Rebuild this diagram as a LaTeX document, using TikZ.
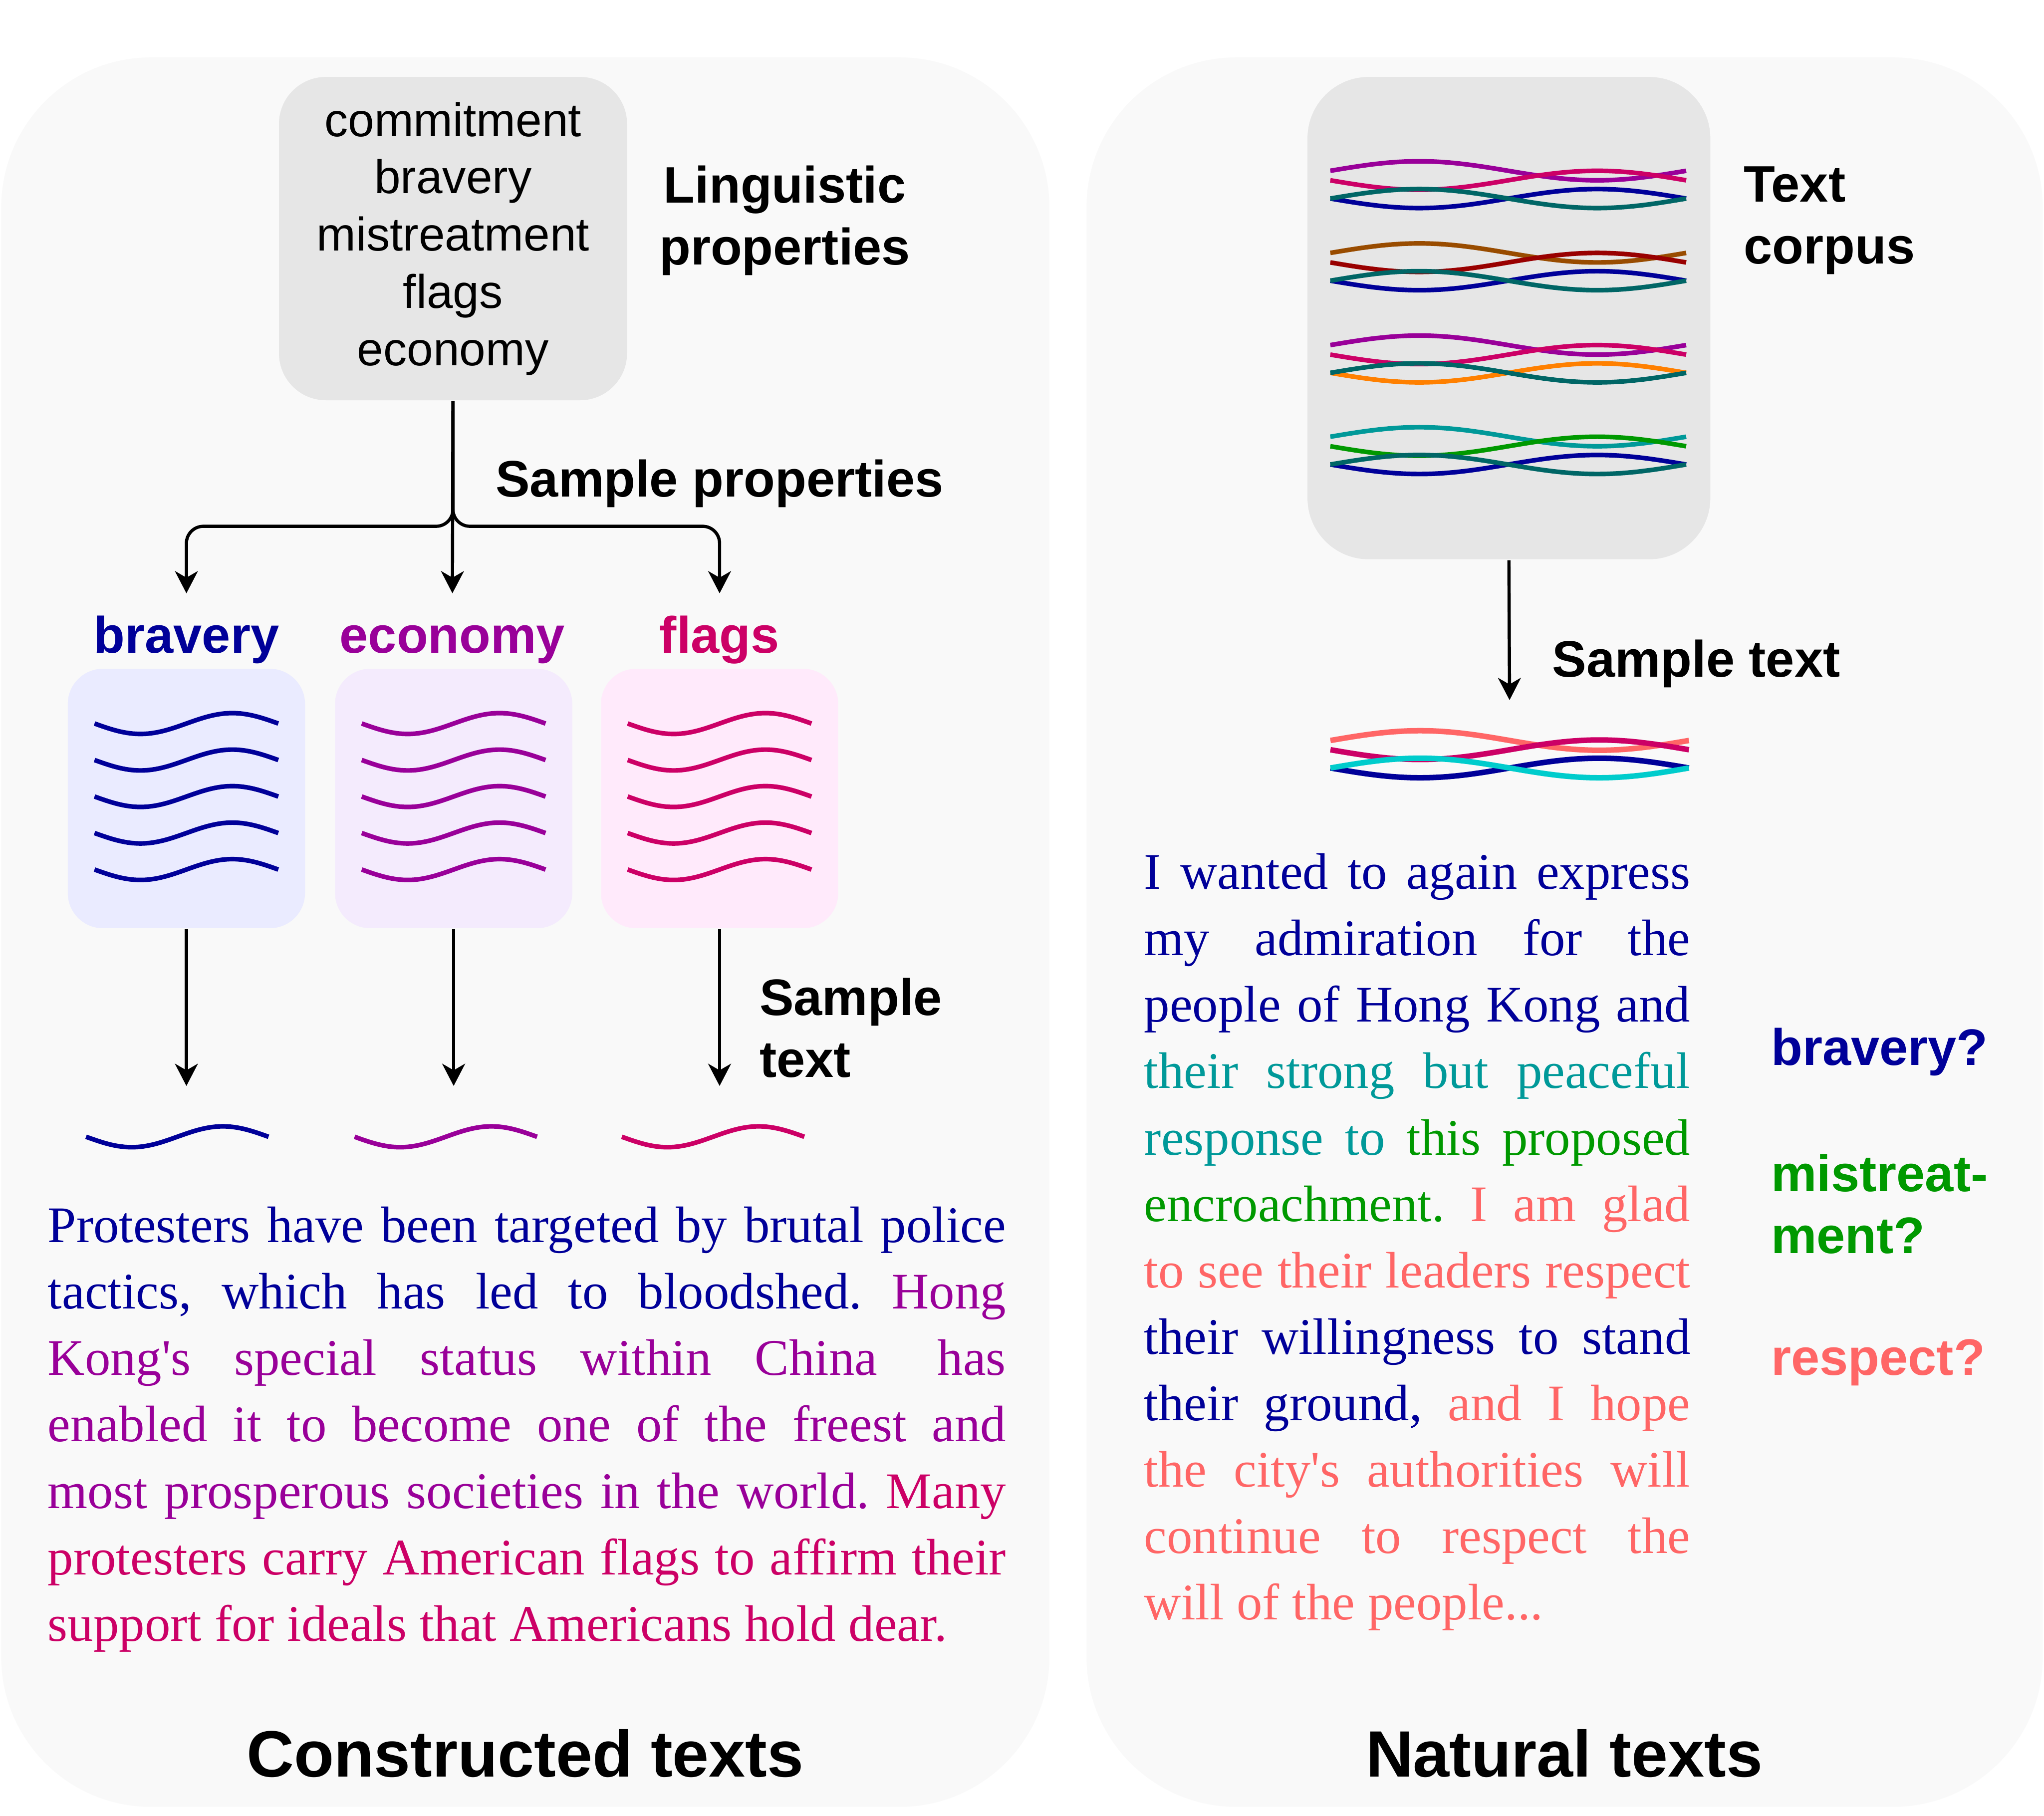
\documentclass[tikz,border=0pt]{standalone}
\usepackage{fontspec}
\setmainfont{Liberation Serif}
\setsansfont{Liberation Sans}
\usetikzlibrary{arrows.meta, positioning}

\definecolor{panelgray}{HTML}{F9F9F9}
\definecolor{boxgray}{HTML}{E6E6E6}
\definecolor{fbrav}{HTML}{EAEBFF}
\definecolor{fecon}{HTML}{F4EBFD}
\definecolor{fflag}{HTML}{FFEAFB}
\definecolor{cnavy}{HTML}{000099}
\definecolor{cecon}{HTML}{990099}
\definecolor{cflag}{HTML}{CC0066}
\definecolor{cdteal}{HTML}{006666}
\definecolor{cbrown}{HTML}{994C00}
\definecolor{cdred}{HTML}{990000}
\definecolor{corange}{HTML}{FF8000}
\definecolor{cteal}{HTML}{009999}
\definecolor{cgreen}{HTML}{009900}
\definecolor{csalmon}{HTML}{FF6666}
\definecolor{cturq}{HTML}{00CCCC}

% one sine period: style, start, width, amplitude (positive = dips first)
\newcommand{\wave}[4]{%
  \draw[#1] (#2) sin ++({#3/4},{-(#4)}) cos ++({#3/4},{#4})
                 sin ++({#3/4},{#4}) cos ++({#3/4},{-(#4)});}

\begin{document}
\begin{tikzpicture}[
  >={Stealth[length=1.7mm, width=1.75mm, inset=0.5mm]},
  panel/.style={fill=panelgray, rounded corners=1.15cm},
  propbox/.style={
    fill=boxgray, rounded corners=0.36cm,
    minimum width=2.67cm, minimum height=2.48cm, align=center,
    font=\sffamily\fontsize{10.3}{12.5}\selectfont
  },
  corpusbox/.style={
    fill=boxgray, rounded corners=0.47cm,
    minimum width=3.09cm, minimum height=3.70cm
  },
  tagbox/.style={
    rounded corners=0.27cm,
    minimum width=1.82cm, minimum height=1.99cm
  },
  lbl/.style={inner sep=0pt, font=\sffamily\bfseries\fontsize{11.2}{13.5}\selectfont},
  tag/.style={lbl, text height=8pt, text depth=2.35pt},
  heading/.style={inner sep=0pt, font=\sffamily\bfseries\fontsize{14.3}{17}\selectfont},
  para/.style={
    inner sep=0pt, anchor=base west, align=justify,
    font=\fontsize{11.2}{14.5}\selectfont\frenchspacing
  },
  arr/.style={->, line width=0.7pt},
  strand/.style={line width=1pt},
]

  \fill[white] (0,0) rectangle (15.68,-13.93);
  \useasboundingbox (0,0) rectangle (15.68,-13.93);

  % -------------------------------------------------------
  %  Panels
  % -------------------------------------------------------
  \fill[panel] (0.01,-0.44) rectangle (8.05,-13.86);
  \fill[panel] (8.335,-0.44) rectangle (15.67,-13.86);

  % -------------------------------------------------------
  %  Constructed texts: properties
  % -------------------------------------------------------
  \node[propbox] (props) at (3.475,-1.83)
    {commitment\\bravery\\mistreatment\\flags\\economy};
  \node[lbl, align=center] (lingprop) at (6.02,-1.69) {Linguistic\\properties};
  \node[lbl] (sampprop) at (5.52,-3.71) {Sample properties};

  \node[tag, text=cnavy] (tbrav) at (1.43,-4.91) {bravery};
  \node[tag, text=cecon] (tecon) at (3.47,-4.91) {economy};
  \node[tag, text=cflag] (tflag) at (5.52,-4.91) {flags};

  \draw[arr, rounded corners=0.13cm, shorten >=0.17cm]
    (props.south) -- ++(0,-0.96) -| (tbrav.north);
  \draw[arr, rounded corners=0.13cm, shorten >=0.17cm]
    (props.south) -- ++(0,-0.96) -| (tflag.north);
  \draw[arr, shorten >=0.17cm] (props.south) -- (tecon.north);

  % -------------------------------------------------------
  %  Property boxes with their texts
  % -------------------------------------------------------
  \node[tagbox, fill=fbrav] (bbox) at (1.43,-6.125) {};
  \node[tagbox, fill=fecon] (ebox) at (3.48,-6.125) {};
  \node[tagbox, fill=fflag] (fbox) at (5.52,-6.125) {};

  \foreach \k in {0,...,4} {
    \wave{strand, cnavy}{0.725,{-5.55-0.28*\k}}{1.41}{0.08}
    \wave{strand, cecon}{2.775,{-5.55-0.28*\k}}{1.41}{0.08}
    \wave{strand, cflag}{4.815,{-5.55-0.28*\k}}{1.41}{0.08}
  }

  \coordinate (bend) at (1.43,-8.33);
  \coordinate (eend) at (3.48,-8.33);
  \coordinate (fend) at (5.52,-8.33);
  \draw[arr] (bbox.south) -- (bend);
  \draw[arr] (ebox.south) -- (eend);
  \draw[arr] (fbox.south) -- (fend);
  \node[lbl, anchor=west, align=left] (samptxt) at (5.82,-7.885) {Sample\\text};

  \wave{strand, cnavy}{0.66,-8.72}{1.40}{0.08}
  \wave{strand, cecon}{2.72,-8.72}{1.40}{0.08}
  \wave{strand, cflag}{4.77,-8.72}{1.40}{0.08}

  \node[para, text width=7.35cm] (ctext) at (0.36,-9.53) {%
    \makebox[\linewidth][s]{\color{cnavy}Protesters have been targeted by brutal police}\\
    \makebox[\linewidth][s]{\color{cnavy}tactics, which has led to bloodshed. \color{cecon}Hong}\\
    \makebox[\linewidth][s]{\color{cecon}Kong\textquotesingle s special status within China\hspace{3.7pt} has}\\
    \makebox[\linewidth][s]{\color{cecon}enabled it to become one of the freest and}\\
    \makebox[\linewidth][s]{\color{cecon}most prosperous societies in the world. \color{cflag}Many}\\
    \makebox[\linewidth][s]{\color{cflag}protesters carry American flags to affirm their}\\
    {\color{cflag}support for ideals that Americans hold dear.}};

  \node[heading] (ctitle) at (4.03,-13.45) {Constructed texts};

  % -------------------------------------------------------
  %  Natural texts: corpus
  % -------------------------------------------------------
  \node[corpusbox] (corpus) at (11.575,-2.44) {};
  \node[lbl, anchor=west, align=left] (corplbl) at (13.37,-1.69) {Text\\corpus};

  \foreach \c/\ca/\cb/\cd in {1.31/cecon/cflag/cnavy, 1.94/cbrown/cdred/cnavy,
                              2.647/cecon/cflag/corange, 3.35/cteal/cgreen/cnavy} {
    \wave{strand, \ca}{10.205,-\c}{2.73}{-0.073}
    \wave{strand, \cb}{10.205,{-\c-0.073}}{2.73}{0.073}
    \wave{strand, \cd}{10.205,{-\c-0.213}}{2.73}{0.073}
    \wave{strand, cdteal}{10.205,{-\c-0.213}}{2.73}{-0.073}
  }

  \coordinate (cend) at (11.58,-5.37);
  \draw[arr] (corpus.south) -- (cend);
  \node[lbl, anchor=west] (samplbl) at (11.90,-5.09) {Sample text};

  \wave{line width=1.2pt, csalmon}{10.206,-5.68}{2.75}{-0.075}
  \wave{line width=1.2pt, cflag}{10.206,-5.751}{2.75}{0.075}
  \wave{line width=1.2pt, cnavy}{10.206,-5.891}{2.75}{0.075}
  \wave{line width=1.2pt, cturq}{10.206,-5.891}{2.75}{-0.075}

  \node[para, text width=4.19cm] (ntext) at (8.77,-6.82) {%
    \makebox[\linewidth][s]{\color{cnavy}I wanted to again express}\\
    \makebox[\linewidth][s]{\color{cnavy}my admiration for the}\\
    \makebox[\linewidth][s]{\color{cnavy}people of Hong Kong and}\\
    \makebox[\linewidth][s]{\color{cteal}their strong but peaceful}\\
    \makebox[\linewidth][s]{\color{cteal}response to \color{cgreen}this proposed}\\
    \makebox[\linewidth][s]{\color{cgreen}encroachment. \color{csalmon}I am glad}\\
    \makebox[\linewidth][s]{\color{csalmon}to see their leaders respect}\\
    \makebox[\linewidth][s]{\color{cnavy}their willingness to stand}\\
    \makebox[\linewidth][s]{\color{cnavy}their ground, \color{csalmon}and I hope}\\
    \makebox[\linewidth][s]{\color{csalmon}the city\textquotesingle s authorities will}\\
    \makebox[\linewidth][s]{\color{csalmon}continue to respect the}\\
    {\color{csalmon}will of the people...}};

  \node[lbl, anchor=west, text=cnavy] (qbrav) at (13.58,-8.07) {bravery?};
  \node[lbl, anchor=west, align=left, text=cgreen] (qmist) at (13.58,-9.235) {mistreat-\\ment?};
  \node[lbl, anchor=west, text=csalmon] (qresp) at (13.58,-10.45) {respect?};

  \node[heading] (ntitle) at (12.00,-13.45) {Natural texts};

\end{tikzpicture}
\end{document}
